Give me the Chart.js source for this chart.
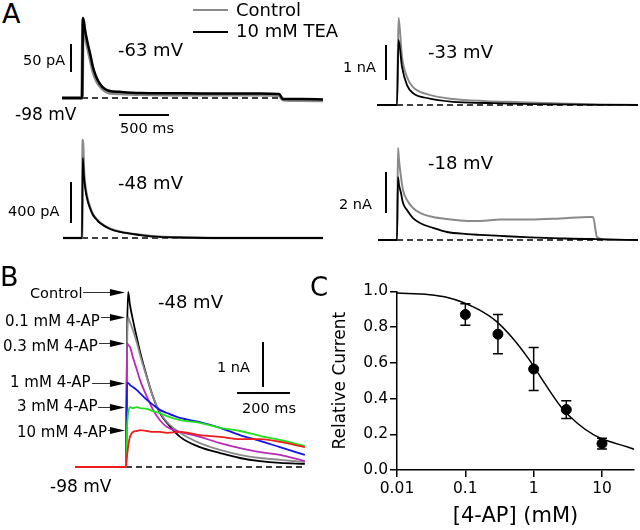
<!DOCTYPE html>
<html>
<head>
<meta charset="utf-8">
<script src="https://cdn.jsdelivr.net/npm/chart.js@4.4.1/dist/chart.umd.min.js"></script>
<style>
  html, body { margin: 0; padding: 0; background: #fff; }
  body { width: 640px; height: 530px; position: relative; overflow: hidden; font-family: "DejaVu Sans", sans-serif; color: #000; }
  canvas { position: absolute; }
  .t { position: absolute; white-space: nowrap; line-height: 1; transform: translateY(-50%); }
  .key { position: absolute; height: 0; width: 35px; border-top: 2px solid; }
</style>
</head>
<body>
<canvas id="a63"></canvas>
<canvas id="a33"></canvas>
<canvas id="a48"></canvas>
<canvas id="a18"></canvas>
<canvas id="b"></canvas>
<canvas id="c"></canvas>

<!-- panel A -->
<div class="t" style="left:2px;top:13px;font-size:27px">A</div>
<div class="key" style="left:193px;top:9px;border-color:#8a8a8a"></div>
<div class="t" style="left:236px;top:10px;font-size:18px">Control</div>
<div class="key" style="left:193px;top:31px;border-color:#000"></div>
<div class="t" style="left:236px;top:31px;font-size:18px">10 mM TEA</div>
<div class="t" style="left:23px;top:60px;font-size:14.5px">50 pA</div>
<div class="t" style="left:118px;top:50px;font-size:18px">-63 mV</div>
<div class="t" style="left:15px;top:114px;font-size:17px">-98 mV</div>
<div class="t" style="left:120px;top:128px;font-size:14.5px">500 ms</div>
<div class="t" style="left:343px;top:67px;font-size:14.5px">1 nA</div>
<div class="t" style="left:428px;top:52px;font-size:18px">-33 mV</div>
<div class="t" style="left:8px;top:211px;font-size:14.5px">400 pA</div>
<div class="t" style="left:118px;top:183px;font-size:18px">-48 mV</div>
<div class="t" style="left:339px;top:204px;font-size:14.5px">2 nA</div>
<div class="t" style="left:428px;top:163px;font-size:18px">-18 mV</div>

<!-- panel B -->
<div class="t" style="left:0px;top:276px;font-size:27px">B</div>
<div class="t" style="left:30px;top:293px;font-size:14.5px">Control</div>
<div class="t" style="left:5px;top:321px;font-size:15px">0.1 mM 4-AP</div>
<div class="t" style="left:3px;top:346px;font-size:15px">0.3 mM 4-AP</div>
<div class="t" style="left:10px;top:382px;font-size:15px">1 mM 4-AP</div>
<div class="t" style="left:17px;top:406px;font-size:15px">3 mM 4-AP</div>
<div class="t" style="left:17px;top:432px;font-size:15px">10 mM 4-AP</div>
<div class="t" style="left:158px;top:302px;font-size:18px">-48 mV</div>
<div class="t" style="left:217px;top:367px;font-size:14.5px">1 nA</div>
<div class="t" style="left:242px;top:408px;font-size:14.5px">200 ms</div>
<div class="t" style="left:50px;top:486px;font-size:17px">-98 mV</div>

<!-- panel C -->
<div class="t" style="left:310px;top:287px;font-size:26px">C</div>

<script>
const FONT = '"DejaVu Sans", sans-serif';

// ---------- A: currents, time in ms from step onset ----------
// -63 mV step, pA
const a63Time    = [-200, -10, 0, 10, 30, 60, 80, 110, 140, 180, 230, 280, 380, 580, 900, 1200, 1500, 1780, 1970, 2010, 2200, 2410];
const a63Control = [0, 0, 0, 140, 115, 88, 72, 48, 33, 21, 13, 9, 8, 6.5, 6, 6, 6, 6, 5, -3, -4, -4.5];
const a63Tea     = [0, 0, 0, 143, 121, 95, 80, 55, 39, 25, 16, 12.5, 11, 9, 8.5, 8, 8, 8, 7, -2, -2, -2.5];

// -33 mV step, nA
const a33Time    = [-200, -5, 0, 15, 50, 100, 160, 300, 560, 900, 1230, 1630, 2030, 2410];
const a33Control = [0, 0, 0, 2.49, 1.37, 0.80, 0.51, 0.31, 0.17, 0.11, 0.08, 0.04, 0.015, 0];
const a33Tea     = [0, 0, 0, 1.86, 1.09, 0.57, 0.34, 0.20, 0.09, 0.057, 0.03, 0.015, 0.005, 0];

// -48 mV step, pA
const a48Time    = [-190, -5, 0, 8, 20, 40, 60, 80, 110, 150, 180, 280, 380, 580, 780, 980, 1500, 2410];
const a48Control = [0, 0, 0, 956, 640, 460, 365, 300, 230, 180, 150, 92, 62, 31, 12, 6, 1, 0];
const a48Tea     = [0, 0, 0, 781, 595, 439, 351, 293, 224, 176, 146, 88, 59, 29, 10, 5, 0, 0];

// -18 mV step, nA
const a18Time    = [-190, -5, 0, 10, 20, 40, 60, 100, 160, 230, 360, 500, 700, 830, 1030, 1330, 1630, 1930, 1960, 2000, 2080, 2410];
const a18Control = [0, 0, 0, 4.49, 3.9, 3.07, 2.44, 1.95, 1.56, 1.32, 1.12, 1.02, 0.93, 0.93, 1.0, 1.0, 1.05, 1.12, 1.12, 0.15, 0.03, 0];
const a18Tea     = [0, 0, 0, 3.07, 2.7, 2.29, 1.8, 1.46, 1.07, 0.83, 0.59, 0.39, 0.29, 0.25, 0.2, 0.13, 0.08, 0.05, 0.05, 0.04, 0.03, 0];

// ---------- B: 4-AP block at -48 mV, nA ----------
const bTime    = [-192, -2, 0, 4, 8, 15, 26, 41, 53, 79, 102, 128, 155, 204, 279, 355, 430, 506, 581, 675];
const bControl = [0, 0, 0, 2.9, 3.89, 3.6, 3.27, 2.87, 2.56, 2.0, 1.56, 1.2, 0.98, 0.67, 0.44, 0.31, 0.2, 0.13, 0.09, 0.07];
const b01mM    = [0, 0, 0, 2.6, 3.33, 3.22, 3.04, 2.76, 2.49, 1.98, 1.56, 1.22, 1.0, 0.76, 0.53, 0.38, 0.27, 0.2, 0.16, 0.11];
const b03mM    = [0, 0, 0, 2.76, 2.71, 2.67, 2.44, 2.16, 1.93, 1.56, 1.27, 1.04, 0.89, 0.78, 0.67, 0.53, 0.42, 0.33, 0.27, 0.13];
const b1mM     = [0, 0, 0, 1.87, 1.87, 1.82, 1.78, 1.71, 1.64, 1.49, 1.38, 1.27, 1.2, 1.09, 1.0, 0.87, 0.71, 0.58, 0.44, 0.27];
const b3mM     = [0, 0, 0, 0.9, 1.2, 1.33, 1.31, 1.33, 1.31, 1.29, 1.24, 1.2, 1.13, 1.04, 0.98, 0.87, 0.8, 0.69, 0.6, 0.47];
const b10mM    = [0, 0, 0, 0.25, 0.45, 0.67, 0.78, 0.8, 0.82, 0.8, 0.78, 0.78, 0.76, 0.78, 0.71, 0.67, 0.62, 0.62, 0.56, 0.44];

// ---------- C: dose-response ----------
const concMM     = [0.1, 0.3, 1, 3, 10];
const relCurrent = [0.87, 0.76, 0.565, 0.338, 0.148];
const relErr     = [0.06, 0.11, 0.12, 0.05, 0.03];
const fitConc    = [0.01, 0.03, 0.053, 0.091, 0.16, 0.276, 0.48, 0.84, 1.46, 2.52, 4.4, 7.7, 13.3, 23.2, 30];
const fitRel     = [0.99, 0.981, 0.967, 0.939, 0.896, 0.836, 0.743, 0.623, 0.483, 0.353, 0.26, 0.195, 0.158, 0.13, 0.115];
const xTicks     = [0.01, 0.1, 1, 10];

const GRAY = '#8a8a8a';

// draws scale bars in data units
const scaleBars = {
  id: 'scaleBars',
  afterDatasetsDraw(chart, args, opts) {
    const { ctx, scales: { x, y } } = chart;
    ctx.save();
    ctx.strokeStyle = '#000';
    ctx.lineWidth = 2;
    (opts.bars || []).forEach(b => {
      ctx.beginPath();
      ctx.moveTo(x.getPixelForValue(b.x0), y.getPixelForValue(b.y0));
      ctx.lineTo(x.getPixelForValue(b.x1), y.getPixelForValue(b.y1));
      ctx.stroke();
    });
    ctx.restore();
  }
};

function trace(times, values, color, width, order) {
  return {
    data: times.map((t, i) => ({ x: t, y: values[i] })),
    borderColor: color,
    borderWidth: width,
    pointRadius: 0,
    fill: false,
    cubicInterpolationMode: 'monotone',
    order: order
  };
}

function baseline(t0, t1) {
  return {
    data: [{ x: t0, y: 0 }, { x: t1, y: 0 }],
    borderColor: '#000',
    borderWidth: 1.5,
    borderDash: [6, 4],
    pointRadius: 0,
    order: 20
  };
}

// box = canvas placement on the page, xmap/ymap = pixel where value v0 sits and units per pixel
function tracePanel(id, box, xmap, ymap, datasets, bars, extra, extraOpts) {
  const cv = document.getElementById(id);
  cv.style.left = box.l + 'px';
  cv.style.top = box.t + 'px';
  cv.width = box.w;
  cv.height = box.h;
  const xMin = xmap.v0 + (box.l - xmap.px) * xmap.per;
  const xMax = xMin + box.w * xmap.per;
  const yMax = ymap.v0 + (ymap.px - box.t) * ymap.per;
  const yMin = yMax - box.h * ymap.per;
  const plugins = { legend: { display: false }, tooltip: { enabled: false }, scaleBars: { bars: bars } };
  Object.assign(plugins, extraOpts || {});
  return new Chart(cv, {
    type: 'line',
    data: { datasets: datasets },
    options: {
      responsive: false,
      animation: false,
      layout: { padding: 0 },
      plugins: plugins,
      scales: {
        x: { type: 'linear', display: false, min: xMin, max: xMax },
        y: { type: 'linear', display: false, min: yMin, max: yMax }
      }
    },
    plugins: [scaleBars].concat(extra || [])
  });
}

// ----- A panels -----
tracePanel('a63', { l: 58, t: 8, w: 268, h: 112 },
  { px: 82, v0: 0, per: 10 }, { px: 98, v0: 0, per: 50 / 28 },
  [trace(a63Time, a63Tea, '#000', 2.5, 0), trace(a63Time, a63Control, GRAY, 3.5, 1), baseline(0, 1960)],
  [{ x0: -110, y0: 46.4, x1: -110, y1: 96.4 }, { x0: 370, y0: -30.4, x1: 870, y1: -30.4 }]);

tracePanel('a33', { l: 370, t: 8, w: 270, h: 102 },
  { px: 397, v0: 0, per: 10 }, { px: 105, v0: 0, per: 1 / 35 },
  [trace(a33Time, a33Tea, '#000', 1.8, 0), trace(a33Time, a33Control, GRAY, 2, 1), baseline(0, 2410)],
  [{ x0: -110, y0: 0.714, x1: -110, y1: 1.714 }]);

tracePanel('a48', { l: 58, t: 132, w: 268, h: 112 },
  { px: 82, v0: 0, per: 10 }, { px: 238, v0: 0, per: 400 / 41 },
  [trace(a48Time, a48Tea, '#000', 1.8, 0), trace(a48Time, a48Control, GRAY, 2.5, 1), baseline(0, 2410)],
  [{ x0: -110, y0: 146, x1: -110, y1: 546 }]);

tracePanel('a18', { l: 370, t: 140, w: 270, h: 106 },
  { px: 397, v0: 0, per: 10 }, { px: 240, v0: 0, per: 2 / 41 },
  [trace(a18Time, a18Tea, '#000', 1.8, 0), trace(a18Time, a18Control, GRAY, 2, 1), baseline(0, 2410)],
  [{ x0: -110, y0: 1.32, x1: -110, y1: 3.32 }]);

// ----- B panel -----
const bSeries = [bControl, b01mM, b03mM, b1mM, b3mM, b10mM];

const peakArrows = {
  id: 'peakArrows',
  afterDatasetsDraw(chart, args, opts) {
    const { ctx, scales: { x, y } } = chart;
    const tipX = x.getPixelForValue(opts.tipTime);
    ctx.save();
    ctx.strokeStyle = '#333';
    ctx.fillStyle = '#000';
    ctx.lineWidth = 1;
    opts.peaks.forEach((v, i) => {
      const py = Math.round(y.getPixelForValue(v)) + 0.5;
      ctx.beginPath();
      ctx.moveTo(opts.tails[i], py);
      ctx.lineTo(tipX - 12, py);
      ctx.stroke();
      ctx.beginPath();
      ctx.moveTo(tipX, py);
      ctx.lineTo(tipX - 15, py - 3.5);
      ctx.lineTo(tipX - 15, py + 3.5);
      ctx.closePath();
      ctx.fill();
    });
    ctx.restore();
  }
};

tracePanel('b', { l: 0, t: 280, w: 310, h: 200 },
  { px: 126, v0: 0, per: 200 / 53 }, { px: 467, v0: 0, per: 1 / 45 },
  [
    trace(bTime, b10mM, '#ee1c1c', 1.8, 0),
    trace(bTime, b3mM, '#22e022', 1.8, 1),
    trace(bTime, b1mM, '#1414e6', 1.8, 2),
    trace(bTime, b03mM, '#b82bb8', 1.8, 3),
    trace(bTime, b01mM, '#8c8c8c', 1.8, 4),
    trace(bTime, bControl, '#000', 1.8, 5),
    baseline(0, 675)
  ],
  [{ x0: 517, y0: 1.778, x1: 517, y1: 2.778 }, { x0: 419, y0: 1.644, x1: 619, y1: 1.644 }],
  [peakArrows],
  { peakArrows: { tipTime: -4, peaks: bSeries.map(s => Math.max(...s)), tails: [83, 101, 99, 92, 98, 108] } });

// ----- C panel -----
const errorBars = {
  id: 'errorBars',
  beforeDatasetsDraw(chart) {
    const { ctx, scales: { x, y } } = chart;
    ctx.save();
    ctx.strokeStyle = '#000';
    ctx.lineWidth = 1.5;
    concMM.forEach((c, i) => {
      const px = x.getPixelForValue(c);
      const top = y.getPixelForValue(relCurrent[i] + relErr[i]);
      const bot = y.getPixelForValue(relCurrent[i] - relErr[i]);
      ctx.beginPath();
      ctx.moveTo(px, top); ctx.lineTo(px, bot);
      ctx.moveTo(px - 5, top); ctx.lineTo(px + 5, top);
      ctx.moveTo(px - 5, bot); ctx.lineTo(px + 5, bot);
      ctx.stroke();
    });
    ctx.restore();
  }
};

const cv = document.getElementById('c');
cv.style.left = '330px';
cv.style.top = '280px';
cv.width = 310;
cv.height = 250;

new Chart(cv, {
  type: 'scatter',
  data: {
    datasets: [
      {
        type: 'line',
        data: fitConc.map((c, i) => ({ x: c, y: fitRel[i] })),
        borderColor: '#000',
        borderWidth: 1.5,
        pointRadius: 0,
        cubicInterpolationMode: 'monotone',
        order: 1
      },
      {
        data: concMM.map((c, i) => ({ x: c, y: relCurrent[i] })),
        pointRadius: 5,
        pointBackgroundColor: '#000',
        pointBorderColor: '#000',
        order: 0
      }
    ]
  },
  options: {
    responsive: false,
    animation: false,
    layout: { padding: { top: 11, right: 2, left: 0, bottom: 0 } },
    plugins: { legend: { display: false }, tooltip: { enabled: false } },
    scales: {
      x: {
        type: 'logarithmic',
        min: 0.01,
        max: 29.4,
        afterBuildTicks: s => { s.ticks = xTicks.map(v => ({ value: v })); },
        afterFit: s => { s.height = 60; },
        ticks: { color: '#000', font: { family: FONT, size: 15.5 }, padding: 3, maxRotation: 0, autoSkip: false,
                 callback: v => String(v) },
        grid: { drawOnChartArea: false, color: '#000', lineWidth: 1.5, tickLength: 7 },
        border: { color: '#000', width: 1.5 },
        title: { display: true, text: '[4-AP] (mM)', color: '#000', font: { family: FONT, size: 21 },
                 padding: { top: 0, bottom: 1 } }
      },
      y: {
        min: 0,
        max: 1,
        afterFit: s => { s.width = 67; },
        ticks: { stepSize: 0.2, color: '#000', font: { family: FONT, size: 15.5 }, padding: 2,
                 callback: v => v.toFixed(1) },
        grid: { drawOnChartArea: false, color: '#000', lineWidth: 1.5, tickLength: 7 },
        border: { color: '#000', width: 1.5 },
        title: { display: true, text: 'Relative Current', color: '#000', font: { family: FONT, size: 17 },
                 padding: 0 }
      }
    }
  },
  plugins: [errorBars]
});
</script>
</body>
</html>
